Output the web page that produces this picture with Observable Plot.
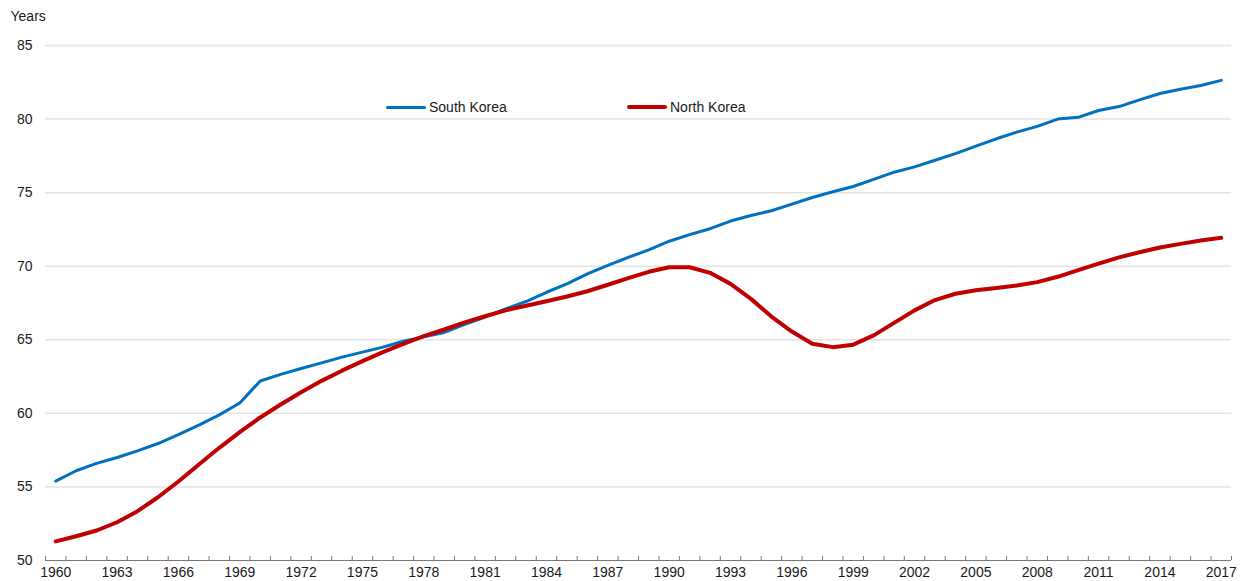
<!DOCTYPE html>
<html>
<head>
<meta charset="utf-8">
<script src="https://cdn.jsdelivr.net/npm/d3@7"></script>
<script src="https://cdn.jsdelivr.net/npm/@observablehq/plot@0.6"></script>
<style>
  html, body { margin: 0; padding: 0; background: #fff; }
  #wrap { position: relative; width: 1244px; height: 581px; font-family: "Liberation Sans Narrow", "Arial Narrow", "Liberation Sans", Arial, sans-serif; color: #1a1a1a; }
  .leg { position: absolute; display: flex; align-items: center; font-size: 14px; white-space: nowrap; }
  .leg .sw { width: 40px; margin-right: 3px; border-radius: 2px; }
</style>
</head>
<body>
<div id="wrap"></div>
<script>
const years = [1960,1961,1962,1963,1964,1965,1966,1967,1968,1969,
  1970,1971,1972,1973,1974,1975,1976,1977,1978,1979,
  1980,1981,1982,1983,1984,1985,1986,1987,1988,1989,
  1990,1991,1992,1993,1994,1995,1996,1997,1998,1999,
  2000,2001,2002,2003,2004,2005,2006,2007,2008,2009,
  2010,2011,2012,2013,2014,2015,2016,2017];

const southKorea = [55.4,56.1,56.6,57.0,57.45,57.95,58.55,59.2,59.9,60.7,
  62.2,62.65,63.05,63.43,63.82,64.16,64.5,64.9,65.2,65.5,
  66.05,66.55,67.1,67.6,68.23,68.8,69.48,70.05,70.6,71.11,
  71.7,72.15,72.55,73.07,73.45,73.77,74.22,74.67,75.06,75.42,
  75.9,76.39,76.75,77.2,77.65,78.16,78.66,79.11,79.5,80.0,
  80.12,80.58,80.85,81.3,81.74,82.03,82.28,82.63];

const northKorea = [51.3,51.65,52.04,52.6,53.35,54.3,55.37,56.53,57.66,58.72,
  59.72,60.6,61.44,62.21,62.9,63.55,64.16,64.72,65.25,65.7,
  66.18,66.6,67.0,67.31,67.62,67.94,68.3,68.74,69.19,69.62,
  69.93,69.93,69.55,68.8,67.78,66.58,65.56,64.73,64.5,64.67,
  65.3,66.15,67.0,67.7,68.13,68.37,68.52,68.69,68.92,69.28,
  69.73,70.18,70.6,70.95,71.27,71.52,71.75,71.93];

const yTicks = [50,55,60,65,70,75,80,85];
const gridTicks = [55,60,65,70,75,80,85];
const xLabelYears = [1960,1963,1966,1969,1972,1975,1978,1981,1984,1987,1990,1993,1996,1999,2002,2005,2008,2011,2014,2017];
const yUnit = "Years";
const seriesNames = ["South Korea", "North Korea"];
const seriesColors = ["#0070c0", "#c00000"];

const sk = years.map((y, i) => ({year: y, value: southKorea[i]}));
const nk = years.map((y, i) => ({year: y, value: northKorea[i]}));
// category boundaries (ticks sit between years)
const boundaries = years.map(y => y - 0.5).concat([years[years.length - 1] + 0.5]);

const font = "'Liberation Sans Narrow', 'Arial Narrow', 'Liberation Sans', Arial, sans-serif";

const chart = Plot.plot({
  width: 1244,
  height: 581,
  marginLeft: 45,
  marginRight: 13,
  marginTop: 45,
  marginBottom: 21,
  style: {fontFamily: font, fontSize: "14px", color: "#1a1a1a", background: "#fff"},
  x: {domain: [boundaries[0], boundaries[boundaries.length - 1]], axis: null},
  y: {domain: [50, 85], axis: null},
  marks: [
    Plot.ruleY(gridTicks, {y: d => d, stroke: "#e3e3e3", strokeWidth: 1.5}),
    Plot.ruleY([50], {y: d => d, stroke: "#777", strokeWidth: 1.2}),
    Plot.ruleX(boundaries, {x: d => d, y1: 50, y2: 50, insetBottom: 4, stroke: "#777", strokeWidth: 1}),
    Plot.text(xLabelYears, {x: d => d, y: 50, dy: 12, text: d => String(d), fill: "#1a1a1a", fontSize: 14}),
    Plot.text(yTicks, {x: boundaries[0], y: d => d, dx: -13, textAnchor: "end", text: d => String(d), fill: "#1a1a1a", fontSize: 14}),
    Plot.text([yUnit], {x: boundaries[0], y: 85, dx: -35, dy: -29, textAnchor: "start", text: d => d, fill: "#1a1a1a", fontSize: 14}),
    Plot.line(sk, {x: "year", y: "value", stroke: seriesColors[0], strokeWidth: 3, strokeLinejoin: "round", strokeLinecap: "round"}),
    Plot.line(nk, {x: "year", y: "value", stroke: seriesColors[1], strokeWidth: 4, strokeLinejoin: "round", strokeLinecap: "round"})
  ]
});

const wrap = document.getElementById("wrap");
wrap.appendChild(chart);

// legend overlay inside the plot area
const legendPos = [[386, 107], [627, 107]];
seriesNames.forEach((name, i) => {
  const d = document.createElement("div");
  d.className = "leg";
  d.style.left = legendPos[i][0] + "px";
  d.style.top = (legendPos[i][1] - 10) + "px";
  d.style.height = "20px";
  const sw = document.createElement("span");
  sw.className = "sw";
  sw.style.height = (i === 0 ? 3 : 4) + "px";
  sw.style.background = seriesColors[i];
  const t = document.createElement("span");
  t.textContent = name;
  d.appendChild(sw);
  d.appendChild(t);
  wrap.appendChild(d);
});
</script>
</body>
</html>
